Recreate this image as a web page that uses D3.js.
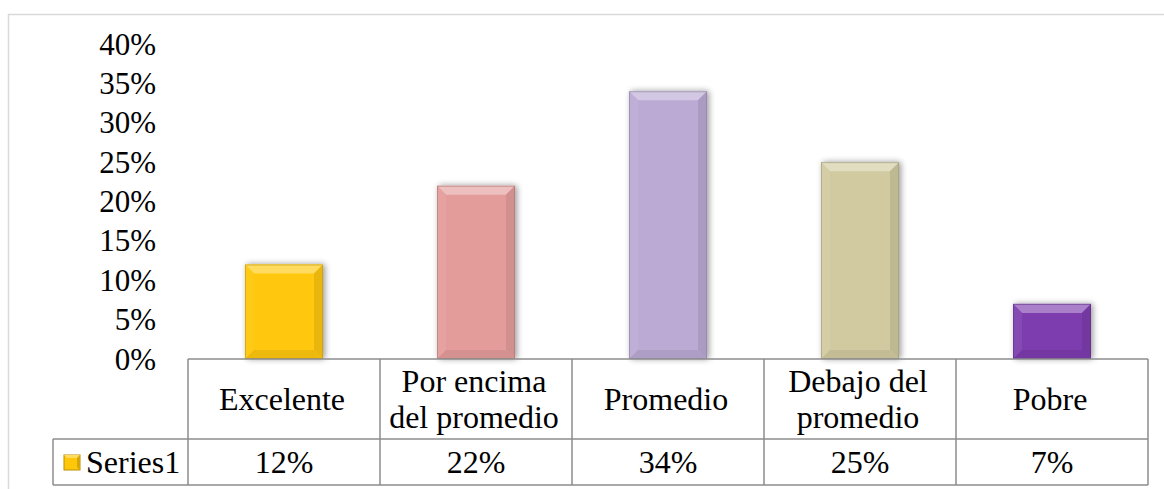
<!DOCTYPE html>
<html><head><meta charset="utf-8">
<script src="https://cdn.jsdelivr.net/npm/d3@7"></script>
</head><body style="margin:0">
<svg id="chart" width="1164" height="489" font-family="Liberation Serif"></svg>
<script>
// Category names (table header row, may wrap to two lines)
const categories = ["Excelente", "Por encima del promedio", "Promedio", "Debajo del promedio", "Pobre"];
const categoryLines = [["Excelente"], ["Por encima", "del promedio"], ["Promedio"], ["Debajo del", "promedio"], ["Pobre"]];
// Series1 values, percent
const values = [12, 22, 34, 25, 7];
// Y axis ticks, percent
const yTicks = [0, 5, 10, 15, 20, 25, 30, 35, 40];
const seriesName = "Series1";
const barColors = ["#FFC70A", "#E49C9B", "#BBAAD4", "#D1CAA0", "#7D3CAF"];

const FONT = "Liberation Serif";
const svg = d3.select("#chart");
const W = 1164, H = 489;

// chart frame
const frame = { left: 8, top: 14 };
svg.append("path")
  .attr("d", `M${frame.left + 0.5},${H} V${frame.top + 0.5} H${W}`)
  .attr("fill", "none").attr("stroke", "#d9d9d9").attr("stroke-width", 1.5);

const plot = { left: 188, right: 1148, top: 44, bottom: 359 };
const tableRow1 = { top: 359, bottom: 439 };
const tableRow2 = { top: 439, bottom: 485 };
const legendLeft = 53;

const x = d3.scaleBand().domain(categories).range([plot.left, plot.right]);
const y = d3.scaleLinear().domain([0, 40]).range([plot.bottom, plot.top]);

// defs: soft shadow
const defs = svg.append("defs");
const shadow = defs.append("filter").attr("id", "shadow")
  .attr("x", "-30%").attr("y", "-20%").attr("width", "160%").attr("height", "140%");
shadow.append("feGaussianBlur").attr("in", "SourceAlpha").attr("stdDeviation", 3);
shadow.append("feOffset").attr("dx", 2).attr("dy", 0).attr("result", "off");
shadow.append("feComponentTransfer").append("feFuncA").attr("type", "linear").attr("slope", 0.4);
const merge = shadow.append("feMerge");
merge.append("feMergeNode");
merge.append("feMergeNode").attr("in", "SourceGraphic");

const fs = 32, lh = 36;

// y axis labels
const yg = svg.append("g");
yg.selectAll("text").data(yTicks).join("text")
  .attr("font-family", FONT).attr("font-size", 31).attr("fill", "#000")
  .attr("text-anchor", "end")
  .attr("x", 156).attr("y", d => y(d)).attr("dy", "0.34em")
  .text(d => d + "%");

// bars with bevelled edges
const bw = 78, bev = 9;
const bars = svg.append("g").selectAll("g").data(values).join("g")
  .attr("filter", "url(#shadow)");

bars.each(function (v, i) {
  const g = d3.select(this);
  const c = d3.color(barColors[i]);
  const x0 = x(categories[i]) + (x.bandwidth() - bw) / 2;
  const x1 = x0 + bw;
  const y0 = y(v);
  const y1 = y(0);
  const b = Math.min(bev, (y1 - y0) / 2);
  g.append("rect").attr("x", x0).attr("y", y0).attr("width", bw).attr("height", y1 - y0)
    .attr("fill", c.formatHex());
  // top bevel (light)
  g.append("path")
    .attr("d", `M${x0},${y0} H${x1} L${x1 - b},${y0 + b} H${x0 + b} Z`)
    .attr("fill", d3.interpolateRgb(c, "#ffffff")(0.35));
  // left bevel
  g.append("path")
    .attr("d", `M${x0},${y0} L${x0 + b},${y0 + b} V${y1 - b} L${x0},${y1} Z`)
    .attr("fill", d3.interpolateRgb(c, "#ffffff")(0.06));
  // right bevel (dark)
  g.append("path")
    .attr("d", `M${x1},${y0} L${x1 - b},${y0 + b} V${y1 - b} L${x1},${y1} Z`)
    .attr("fill", c.darker(0.25).formatHex());
  // bottom bevel
  g.append("path")
    .attr("d", `M${x0},${y1} L${x0 + b},${y1 - b} H${x1 - b} L${x1},${y1} Z`)
    .attr("fill", c.darker(0.2).formatHex());
  // thin edge lines
  g.append("rect").attr("x", x0 + 0.5).attr("y", y0 + 0.5).attr("width", bw - 1).attr("height", y1 - y0 - 1)
    .attr("fill", "none").attr("stroke", c.darker(0.8).formatHex()).attr("stroke-opacity", 0.6).attr("stroke-width", 1);
});

// data table
const tbl = svg.append("g").attr("fill", "none").attr("stroke", "#8c8c8c").attr("stroke-width", 1.5);
tbl.append("line").attr("x1", plot.left).attr("x2", plot.right).attr("y1", tableRow1.top).attr("y2", tableRow1.top);
tbl.append("line").attr("x1", legendLeft).attr("x2", plot.right).attr("y1", tableRow2.top).attr("y2", tableRow2.top);
tbl.append("line").attr("x1", legendLeft).attr("x2", plot.right).attr("y1", tableRow2.bottom).attr("y2", tableRow2.bottom);
tbl.append("line").attr("x1", legendLeft).attr("x2", legendLeft).attr("y1", tableRow2.top).attr("y2", tableRow2.bottom);
const colEdges = categories.map(d => x(d)).concat([plot.right]);
tbl.selectAll("line.col").data(colEdges).join("line").attr("class", "col")
  .attr("x1", d => d).attr("x2", d => d).attr("y1", tableRow1.top).attr("y2", tableRow2.bottom);

// header labels
const header = svg.append("g");
categoryLines.forEach((lines, i) => {
  const cx = x(categories[i]) + x.bandwidth() / 2 - 2;
  const cy = (tableRow1.top + tableRow1.bottom) / 2;
  lines.forEach((ln, k) => {
    header.append("text").attr("x", cx)
      .attr("y", cy + (k - (lines.length - 1) / 2) * lh).attr("dy", "0.34em")
      .attr("font-family", FONT).attr("font-size", fs).attr("fill", "#000").attr("text-anchor", "middle")
      .text(ln);
  });
});

// value row
const rowY = (tableRow2.top + tableRow2.bottom) / 2;
svg.append("g").selectAll("text").data(values).join("text")
  .attr("font-family", FONT).attr("font-size", fs).attr("fill", "#000").attr("text-anchor", "middle")
  .attr("x", (d, i) => x(categories[i]) + x.bandwidth() / 2)
  .attr("y", rowY).attr("dy", "0.34em")
  .text(d => d + "%");

// legend key + series name
const key = svg.append("g");
const kc = d3.color(barColors[0]);
key.append("rect").attr("x", 64).attr("y", 455).attr("width", 16).attr("height", 15)
  .attr("fill", kc.formatHex()).attr("stroke", kc.darker(0.9).formatHex()).attr("stroke-width", 1);
key.append("path").attr("d", "M64,455 H80 L77,458 H67 Z").attr("fill", d3.interpolateRgb(kc, "#fff")(0.35));
key.append("path").attr("d", "M80,455 V470 L77,467 V458 Z").attr("fill", kc.darker(0.5).formatHex());
svg.append("text").attr("x", 86).attr("y", rowY).attr("dy", "0.34em")
  .attr("font-family", FONT).attr("font-size", fs).attr("fill", "#000").text(seriesName);
</script>
</body></html>
